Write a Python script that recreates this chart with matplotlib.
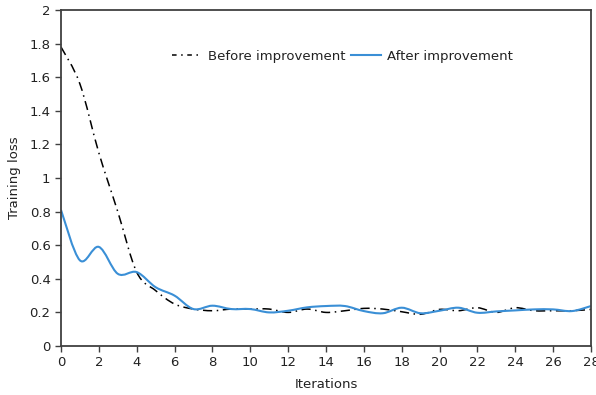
import numpy as np
import matplotlib
matplotlib.use('Agg')
import matplotlib.pyplot as plt
from matplotlib.path import Path
from matplotlib.patches import PathPatch
from matplotlib.lines import Line2D

iterations = list(range(29))
loss_before = [1.78, 1.56, 1.15, 0.80, 0.44, 0.33, 0.25, 0.22, 0.21, 0.22,
               0.22, 0.22, 0.20, 0.22, 0.20, 0.21, 0.224, 0.22, 0.204, 0.189,
               0.218, 0.21, 0.228, 0.20, 0.228, 0.21, 0.21, 0.21, 0.218]
loss_after = [0.81, 0.51, 0.59, 0.43, 0.44, 0.35, 0.30, 0.22, 0.24, 0.22,
              0.22, 0.20, 0.21, 0.23, 0.238, 0.238, 0.208, 0.195, 0.228, 0.195,
              0.21, 0.228, 0.198, 0.206, 0.212, 0.218, 0.218, 0.208, 0.238]

BLUE = '#3a8fd6'
SPINE = '#404040'
DASHDOT = (0, (6, 3, 1, 3))


def smooth_path(x, y):
    # Catmull-Rom curve through the points, as bezier segments
    x = np.asarray(x, float)
    y = np.asarray(y, float)
    pts = np.column_stack([x, y])
    verts = [pts[0]]
    codes = [Path.MOVETO]
    n = len(pts)
    for i in range(n - 1):
        p0 = pts[max(i - 1, 0)]
        p1 = pts[i]
        p2 = pts[i + 1]
        p3 = pts[min(i + 2, n - 1)]
        c1 = p1 + (p2 - p0) / 6.0
        c2 = p2 - (p3 - p1) / 6.0
        verts += [c1, c2, p2]
        codes += [Path.CURVE4] * 3
    return Path(verts, codes)


plt.rcParams['font.family'] = ['DejaVu Sans']
fig = plt.figure(figsize=(5.96, 3.95), dpi=100)
ax = fig.add_axes([0.1023, 0.124, 0.8893, 0.8507])

ax.add_patch(PathPatch(smooth_path(iterations, loss_before), fill=False,
                       edgecolor='black', lw=1.1, linestyle=DASHDOT))
ax.add_patch(PathPatch(smooth_path(iterations, loss_after), fill=False,
                       edgecolor=BLUE, lw=1.5))

ax.set_xlim(0, 28)
ax.set_ylim(0, 2)
ax.set_xticks(range(0, 29, 2))
ax.set_yticks(np.arange(0, 2.01, 0.2))
ax.set_yticklabels(['0', '0.2', '0.4', '0.6', '0.8', '1', '1.2', '1.4', '1.6', '1.8', '2'])
ax.tick_params(direction='out', length=4, width=1, color=SPINE, labelsize=9.5,
               labelcolor='#222222')
for s in ax.spines.values():
    s.set_color(SPINE)
    s.set_linewidth(1.3)

ax.set_xlabel('Iterations', fontsize=9.5, color='#222222', labelpad=6)
ax.set_ylabel('Training loss', fontsize=9.5, color='#222222', labelpad=6)

handles = [Line2D([], [], color='black', lw=1.1, linestyle=(0, (3, 3, 1, 3))),
           Line2D([], [], color=BLUE, lw=1.5)]
ax.legend(handles, ['Before improvement', 'After improvement'], ncol=2,
          frameon=False, loc='center', bbox_to_anchor=(0.531, 0.863),
          fontsize=9.5, handlelength=2.27, handletextpad=0.45, columnspacing=0.38,
          borderpad=0, labelcolor='#222222')

fig.savefig('out.png', dpi=100)
